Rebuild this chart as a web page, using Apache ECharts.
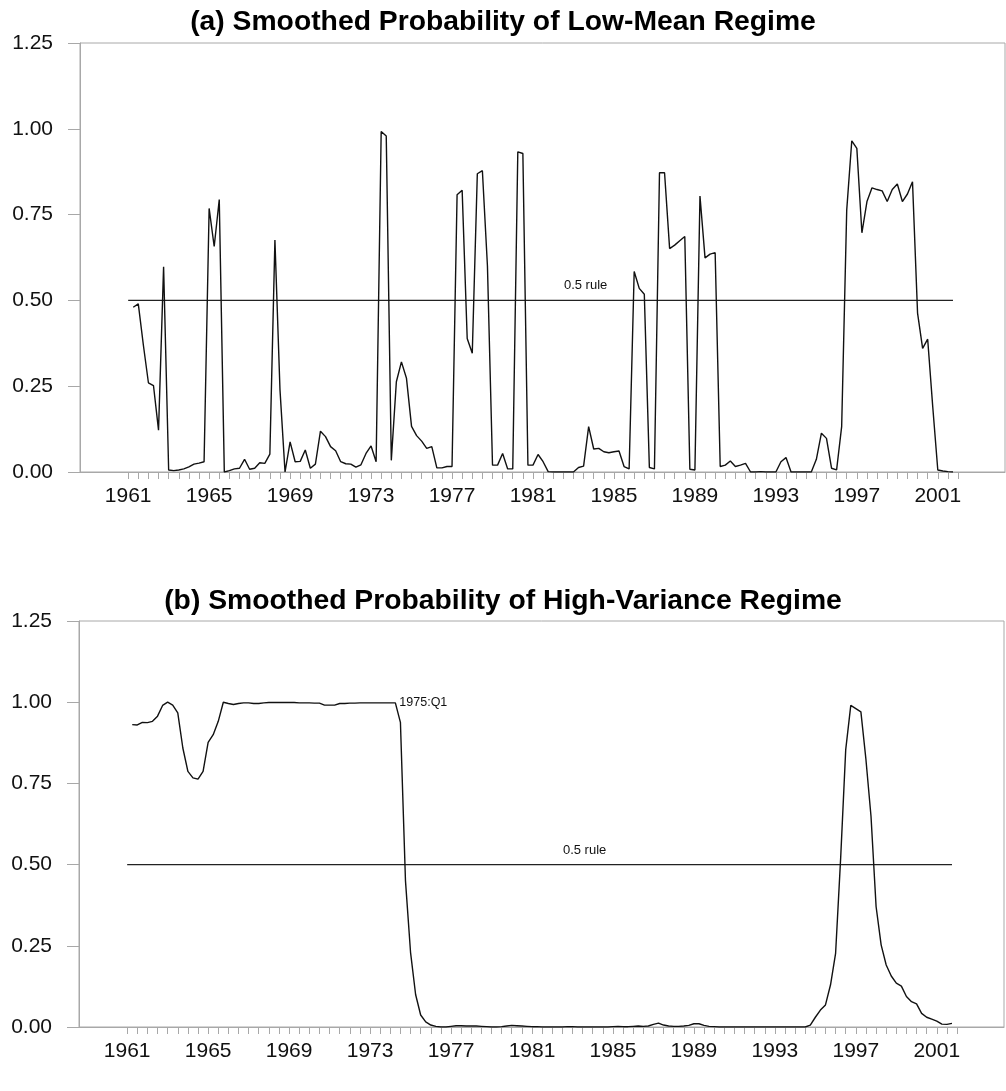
<!DOCTYPE html>
<html>
<head>
<meta charset="utf-8">
<title>Smoothed Regime Probabilities</title>
<script src="https://cdn.jsdelivr.net/npm/echarts@6/dist/echarts.min.js"></script>
<style>
  html, body { margin: 0; padding: 0; background: #fff; }
  #chart { width: 1006px; height: 1091px; }
</style>
</head>
<body>
<div id="chart"></div>
<script>
// quarterly sample, first observation 1961:Q1
const firstYear = 1961

// (a) smoothed probability of the low-mean regime
const lowMean = [
  0.48, 0.49, 0.37, 0.26, 0.252, 0.122, 0.598, 0.006, 0.004, 0.006,
  0.009, 0.015, 0.023, 0.026, 0.03, 0.768, 0.657, 0.794, 0.0, 0.004,
  0.009, 0.011, 0.037, 0.008, 0.011, 0.027, 0.025, 0.052, 0.676, 0.24,
  0.0, 0.088, 0.03, 0.031, 0.064, 0.011, 0.023, 0.119, 0.103, 0.074,
  0.062, 0.03, 0.024, 0.023, 0.014, 0.021, 0.054, 0.076, 0.03, 0.992,
  0.979, 0.034, 0.263, 0.321, 0.273, 0.133, 0.106, 0.09, 0.069, 0.074,
  0.012, 0.012, 0.016, 0.016, 0.808, 0.821, 0.389, 0.346, 0.869, 0.878,
  0.6, 0.02, 0.02, 0.054, 0.009, 0.009, 0.933, 0.928, 0.02, 0.02,
  0.051, 0.03, 0.001, 0.0, 0.0, 0.0, 0.0, 0.0, 0.013, 0.017,
  0.132, 0.067, 0.069, 0.059, 0.056, 0.059, 0.061, 0.016, 0.009, 0.584,
  0.535, 0.518, 0.013, 0.009, 0.872, 0.872, 0.651, 0.661, 0.674, 0.686,
  0.008, 0.006, 0.804, 0.624, 0.635, 0.639, 0.016, 0.02, 0.032, 0.016,
  0.02, 0.025, 0.0, 0.0, 0.001, 0.0, 0.0, 0.0, 0.03, 0.042,
  0.0, 0.0, 0.0, 0.0, 0.0, 0.037, 0.113, 0.098, 0.011, 0.006,
  0.132, 0.763, 0.965, 0.943, 0.697, 0.788, 0.828, 0.823, 0.819, 0.788,
  0.823, 0.839, 0.788, 0.81, 0.846, 0.463, 0.36, 0.387, 0.19, 0.006,
  0.003, 0.001, 0.0
]

// (b) smoothed probability of the high-variance regime
const highVar = [
  0.931, 0.930, 0.938, 0.937, 0.941, 0.957, 0.99, 1.0, 0.991, 0.967,
  0.859, 0.787, 0.767, 0.763, 0.787, 0.876, 0.9, 0.941, 1.0, 0.996,
  0.993, 0.996, 0.998, 0.998, 0.996, 0.996, 0.998, 0.999, 0.999, 0.999,
  0.999, 0.999, 0.999, 0.998, 0.998, 0.998, 0.997, 0.997, 0.991, 0.991,
  0.991, 0.996, 0.996, 0.997, 0.997, 0.998, 0.998, 0.998, 0.998, 0.998,
  0.998, 0.998, 0.998, 0.938, 0.45, 0.23, 0.10, 0.037, 0.016, 0.006,
  0.002, 0.0, 0.0, 0.002, 0.004, 0.004, 0.003, 0.003, 0.003, 0.002,
  0.001, 0.0, 0.0, 0.001, 0.003, 0.005, 0.004, 0.003, 0.002, 0.001,
  0.001, 0.0, 0.0, 0.0, 0.0, 0.0, 0.001, 0.001, 0.0, 0.0,
  0.0, 0.0, 0.0, 0.0, 0.0, 0.001, 0.002, 0.001, 0.001, 0.002,
  0.003, 0.002, 0.003, 0.008, 0.012, 0.006, 0.003, 0.002, 0.002, 0.003,
  0.005, 0.01, 0.01, 0.005, 0.002, 0.001, 0.0, 0.0, 0.0, 0.0,
  0.0, 0.0, 0.0, 0.0, 0.0, 0.0, 0.0, 0.0, 0.0, 0.0,
  0.0, 0.0, 0.0, 0.0, 0.006, 0.03, 0.052, 0.068, 0.13, 0.227,
  0.52, 0.854, 0.99, 0.98, 0.97, 0.823, 0.648, 0.371, 0.253, 0.191,
  0.157, 0.135, 0.126, 0.094, 0.078, 0.071, 0.042, 0.03, 0.024, 0.018,
  0.009, 0.008, 0.011
]

// axis labels and ticks
const yearLabels = [1961, 1965, 1969, 1973, 1977, 1981, 1985, 1989, 1993, 1997, 2001]
const halfYearTicks = []
for (let y = 1961; y <= 2002; y += 0.5) halfYearTicks.push(y)

// the 0.5 decision rule and the annotations
const ruleLevel = 0.5
const ruleText = '0.5 rule'
const breakText = '1975:Q1'
const breakIndex = 52

// each observation sits at the end of its quarter
const toPoints = (values) => values.map((v, i) => [firstYear + (i + 1) / 4, v])
const lastTime = firstYear + lowMean.length / 4

const font = 'Liberation Sans, Arial, Helvetica, sans-serif'
const frameColor = '#a8a8a8'

const makeX = (gridIndex) => ({
  type: 'value',
  gridIndex,
  min: 1958.62,
  max: 2004.32,
  axisLine: { lineStyle: { color: frameColor, width: 1 } },
  axisTick: { customValues: halfYearTicks, length: 7, lineStyle: { color: frameColor } },
  axisLabel: {
    customValues: yearLabels,
    formatter: (v) => String(v),
    fontFamily: font,
    fontSize: 21,
    color: '#111',
    margin: 14
  },
  splitLine: { show: false }
})

const makeY = (gridIndex) => ({
  type: 'value',
  gridIndex,
  min: 0,
  max: 1.25,
  interval: 0.25,
  axisLine: { show: true, lineStyle: { color: frameColor, width: 1 } },
  axisTick: { show: true, length: 12, lineStyle: { color: frameColor } },
  axisLabel: {
    formatter: (v) => v.toFixed(2),
    fontFamily: font,
    fontSize: 21,
    color: '#111',
    margin: 27
  },
  splitLine: { show: false }
})

const ruleSeries = (idx) => ({
  type: 'line',
  xAxisIndex: idx,
  yAxisIndex: idx,
  data: [[firstYear, ruleLevel], [lastTime, ruleLevel]],
  symbol: 'none',
  lineStyle: { color: '#222', width: 1.2 },
  markPoint: {
    symbol: 'circle',
    symbolSize: 0,
    data: [{ coord: [1983.6, ruleLevel] }],
    label: {
      show: true,
      position: 'top',
      distance: 8,
      formatter: ruleText,
      fontFamily: font,
      fontSize: 13,
      color: '#111'
    }
  }
})

const chart = echarts.init(document.getElementById('chart'))

chart.setOption({
  animation: false,
  backgroundColor: '#fff',
  title: [
    {
      text: '(a) Smoothed Probability of Low-Mean Regime',
      left: 'center',
      top: 3,
      textStyle: { fontFamily: font, fontSize: 28.3, fontWeight: 'bold', color: '#000' }
    },
    {
      text: '(b) Smoothed Probability of High-Variance Regime',
      left: 'center',
      top: 582,
      textStyle: { fontFamily: font, fontSize: 28.3, fontWeight: 'bold', color: '#000' }
    }
  ],
  grid: [
    { left: 80, top: 43, width: 925, height: 429, show: true, borderColor: frameColor, borderWidth: 1 },
    { left: 79, top: 621, width: 925, height: 406, show: true, borderColor: frameColor, borderWidth: 1 }
  ],
  xAxis: [makeX(0), makeX(1)],
  yAxis: [makeY(0), makeY(1)],
  series: [
    ruleSeries(0),
    {
      type: 'line',
      xAxisIndex: 0,
      yAxisIndex: 0,
      data: toPoints(lowMean),
      symbol: 'none',
      lineStyle: { color: '#111', width: 1.4 }
    },
    ruleSeries(1),
    {
      type: 'line',
      xAxisIndex: 1,
      yAxisIndex: 1,
      data: toPoints(highVar),
      symbol: 'none',
      lineStyle: { color: '#111', width: 1.4 },
      markPoint: {
        symbol: 'circle',
        symbolSize: 0,
        data: [{ coord: [firstYear + (breakIndex + 1) / 4, highVar[breakIndex]] }],
        label: {
          show: true,
          position: 'right',
          distance: 4,
          formatter: breakText,
          fontFamily: font,
          fontSize: 12.5,
          color: '#111'
        }
      }
    }
  ]
})
</script>
</body>
</html>
